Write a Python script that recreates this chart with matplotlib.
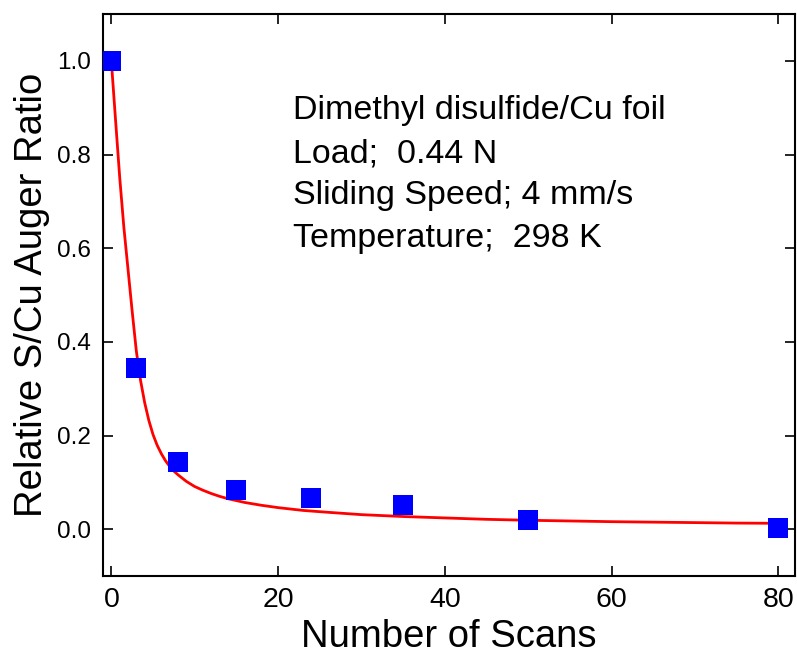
import matplotlib
matplotlib.use("Agg")
import matplotlib.pyplot as plt

plt.rcParams['font.family'] = ['Liberation Sans', 'DejaVu Sans']

# measured data points
scans = [0, 3, 8, 15, 24, 35, 50, 80]
ratio = [1.0, 0.345, 0.144, 0.083, 0.066, 0.051, 0.019, 0.002]

# fitted curve
fit_x = [0, 0.5, 1.0, 1.5, 2.0, 2.5, 3.0, 3.5, 4.0, 4.5, 5.0, 5.5, 6.0, 6.5,
         7.0, 7.5, 8.0, 9.0, 10, 11, 12, 13, 14, 16, 18, 20, 23, 26, 30, 35,
         40, 45, 50, 55, 60, 65, 70, 75, 80]
fit_y = [1.0, 0.875, 0.752, 0.645, 0.555, 0.465, 0.380, 0.318, 0.270, 0.232,
         0.202, 0.179, 0.161, 0.146, 0.134, 0.124, 0.116, 0.102, 0.091, 0.083,
         0.076, 0.070, 0.065, 0.057, 0.051, 0.046, 0.040, 0.036, 0.031, 0.027,
         0.024, 0.021, 0.019, 0.0175, 0.016, 0.015, 0.014, 0.013, 0.0125]

xticks = [0, 20, 40, 60, 80]
yticks = [0.0, 0.2, 0.4, 0.6, 0.8, 1.0]
ytick_labels = ['0.0', '0.2', '0.4', '0.6', '0.8', '1.0']

info_lines = ['Dimethyl disulfide/Cu foil', 'Load;  0.44 N',
              'Sliding Speed; 4 mm/s', 'Temperature;  298 K']

W, H = 797, 654
fig = plt.figure(figsize=(W / 100, H / 100), dpi=100)
ax = fig.add_axes([103 / W, 1 - 576 / H, (795 - 103) / W, (576 - 14) / H])

ax.plot(fit_x, fit_y, color='#ff0000', lw=2.0, zorder=2,
        solid_joinstyle='round')
ax.plot(scans, ratio, linestyle='none', marker='s', markersize=14,
        color='#0000ff', markeredgewidth=0, zorder=3)

ax.set_xlim(-1, 82)
ax.set_ylim(-0.1, 1.1)
ax.set_xticks(xticks)
ax.set_yticks(yticks)
ax.set_yticklabels(ytick_labels)
ax.tick_params(direction='in', length=7, width=1.2, top=True, right=True)
ax.tick_params(axis='y', labelsize=17.5, pad=9)
ax.tick_params(axis='x', labelsize=20.5, pad=8)
for s in ax.spines.values():
    s.set_linewidth(1.5)

ax.set_xlabel('Number of Scans', fontsize=27.5, labelpad=4)
ax.set_ylabel('Relative S/Cu Auger Ratio', fontsize=27.5, labelpad=5)

baselines = [119, 162, 204, 247]
for line, b in zip(info_lines, baselines):
    fig.text(293 / W, 1 - b / H, line, fontsize=24.5, va='baseline', ha='left')

fig.savefig('out.png', dpi=100)
